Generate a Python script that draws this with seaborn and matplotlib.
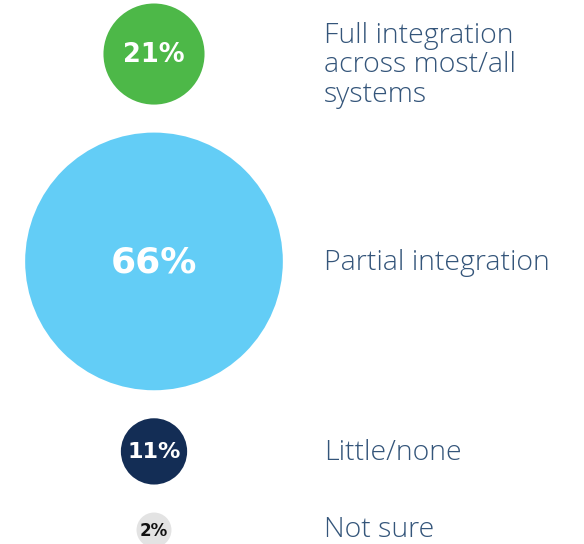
import matplotlib
matplotlib.use("Agg")
import matplotlib.pyplot as plt
import numpy as np
import pandas as pd
import seaborn as sns

# Survey answers and their shares (%)
categories = [
    "Full integration\nacross most/all\nsystems",
    "Partial integration",
    "Little/none",
    "Not sure",
]
shares = [21, 66, 11, 2]
share_labels = ["21%", "66%", "11%", "2%"]
bubble_colors = ["#4db848", "#63cdf6", "#132d55", "#e3e3e3"]
value_text_colors = ["white", "white", "white", "#111111"]

sns.set_theme(style="white")
plt.rcParams["font.family"] = ["DejaVu Sans"]

W, H, DPI = 584, 544, 100
fig = plt.figure(figsize=(W / DPI, H / DPI), dpi=DPI)
ax = fig.add_axes([0, 0, 1, 1])
ax.set_xlim(0, W)
ax.set_ylim(H, 0)
ax.set_axis_off()

# Bubble radius (px) grows linearly with the share; bubbles are stacked
# vertically with a constant gap between them.
radius = 14 + 1.74 * np.asarray(shares, dtype=float)
gap, top = 28, 3.5
centers = []
y = top
for r in radius:
    centers.append(y + r)
    y += 2 * r + gap

df = pd.DataFrame({
    "category": categories,
    "share": shares,
    "x": 154.0,
    "y": centers,
})

# marker area in pt^2 from the pixel diameter
diam_pt = 2 * radius * 72 / DPI
sns.scatterplot(
    data=df, x="x", y="y", hue="category",
    palette=dict(zip(categories, bubble_colors)),
    s=diam_pt ** 2, linewidth=0, legend=False, ax=ax, zorder=2,
)

value_sizes = [18.5, 26, 16, 12]
label_shift = [11, 2, 2, 0]
for row, lab, tc, fs, dy in zip(df.itertuples(), share_labels,
                                value_text_colors, value_sizes, label_shift):
    ax.text(row.x, row.y + 1, lab, ha="center", va="center", color=tc,
            fontsize=fs, fontweight="bold", zorder=3)
    ax.text(324, row.y + dy, row.category,
            ha="left", va="center", color="#34557a", fontsize=20.5,
            family=["Open Sans", "DejaVu Sans"], fontweight="light",
            linespacing=1.07, zorder=3)

fig.savefig("out.png", dpi=DPI)
